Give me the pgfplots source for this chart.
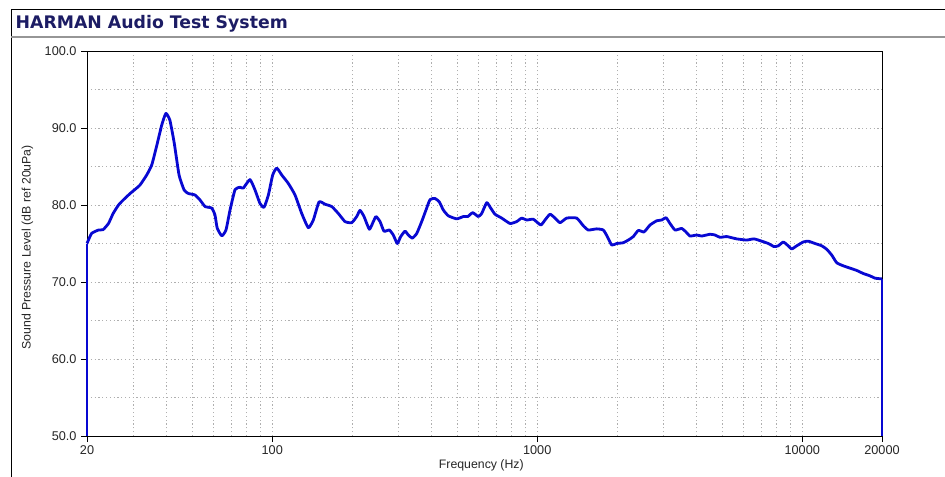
\documentclass[border=0pt]{standalone}
\usepackage{fontspec}
\setmainfont{Liberation Sans}
\newfontfamily\titlefont{DejaVu Sans}
\usepackage{pgfplots}
\pgfplotsset{compat=1.18}
\definecolor{titleblue}{RGB}{28,28,100}
\definecolor{curveblue}{RGB}{8,8,210}
\definecolor{gridgray}{RGB}{175,175,175}
\definecolor{sepgray}{RGB}{150,150,150}
\begin{document}
\begin{tikzpicture}
\path[use as bounding box, fill=white] (0,0) rectangle (945bp,477bp);
\draw[black, line width=0.8bp] (945bp,468bp) -- (11bp,468bp) -- (11bp,0bp);
\draw[sepgray, line width=1.6bp] (11bp,440bp) -- (945bp,440bp);
\node[anchor=west, inner sep=0pt, text=titleblue] at (15.5bp,453.5bp)
  {\titlefont\bfseries\fontsize{17.3bp}{20bp}\selectfont HARMAN Audio Test System};
\begin{axis}[
  at={(87bp,41bp)}, anchor=south west,
  width=795bp, height=385bp, scale only axis,
  xmode=log, xmin=20, xmax=20000, ymin=50, ymax=100,
  xtick={20,100,1000,10000,20000},
  xticklabels={20,100,1000,10000,20000},
  minor xtick={30,40,50,60,70,80,90,200,300,400,500,600,700,800,900,2000,3000,4000,5000,6000,7000,8000,9000},
  ytick={50,60,...,100},
  minor ytick={55,65,75,85,95},
  yticklabel={\pgfmathprintnumber[fixed,fixed zerofill,precision=1]{\tick}},
  /pgf/number format/assume math mode=true,
  tick align=outside,
  major tick length=6bp, minor tick length=0pt,
  tick style={black, line width=0.7bp},
  xtick pos=bottom, ytick pos=left,
  grid=both,
  major grid style={gridgray, line width=0.7bp, dash pattern=on 1.2bp off 2.6bp},
  minor grid style={gridgray, line width=0.7bp, dash pattern=on 1.2bp off 2.6bp},
  axis line style={black, line width=0.8bp},
  tick label style={font=\fontsize{12.7bp}{14bp}\selectfont, text=black!85},
  yticklabel style={xshift=-1bp},
  xlabel={Frequency (Hz)},
  ylabel={Sound Pressure Level (dB ref 20uPa)},
  label style={font=\fontsize{12.3bp}{14bp}\selectfont, text=black!85},
  xlabel style={at={(axis description cs:0.496,-0.075)}, anchor=center},
  ylabel style={at={(axis description cs:-0.075,0.49)}, anchor=center},
  clip=false,
]
\addplot[curveblue, line width=2.8bp, line cap=butt] coordinates {(20,50) (20,75.0)};
\addplot[curveblue, line width=2.8bp, line cap=butt] coordinates {(20000,70.4) (20000,50)};
\addplot[curveblue, line width=2.8bp, line join=round, smooth, tension=0.3] coordinates {
(20,75.0) (20.8,76.3) (22.1,76.75) (23.0,76.8) (24.1,77.6) (25.1,78.9)
(26.3,80.0) (27.4,80.65) (29.1,81.5) (30.3,82.0) (31.7,82.6) (33.6,83.9)
(35.1,85.2) (36.6,87.6) (38.3,90.4) (39.7,91.9) (41.1,91.0) (42.7,88.0)
(44.5,83.9) (46.5,81.95) (48.2,81.5) (51.1,81.3) (53.4,80.65) (55.8,79.8)
(59.1,79.6) (60.8,78.7) (62.0,77.0) (64.5,76.0) (66.9,76.75) (69.3,79.35)
(72.4,82.0) (75.6,82.3) (77.8,82.2) (82.4,83.3) (86.1,81.95) (89.9,80.2)
(93.1,79.7) (96.7,81.3) (100.4,83.9) (104.0,84.8) (108.6,83.9) (115.0,82.8)
(121.9,81.3) (129.2,78.9) (136.8,77.05) (142.9,78.05) (150.2,80.4) (158.2,80.1)
(167.7,79.8) (177.6,78.9) (188.2,77.85) (199.5,77.7) (208.3,78.5) (214.4,79.3)
(222.0,78.5) (232.5,76.85) (240.7,77.85) (246.4,78.5) (255.1,77.85) (264.1,76.6)
(276.6,76.75) (286.3,76.1) (296.5,75.0) (305.4,75.9) (317.0,76.6) (326.2,76.1)
(337.7,75.7) (350.9,76.3) (366.5,77.85) (380.4,79.35) (393.9,80.7) (411.4,80.85)
(427.0,80.4) (442.2,79.35) (461.8,78.6) (496.8,78.2) (526.1,78.5) (546.5,78.5)
(570.9,79.0) (599.3,78.5) (617.2,78.9) (644.7,80.3) (667.5,79.6) (692.9,78.8)
(734.4,78.3) (789.6,77.6) (836.7,77.85) (873.9,78.3) (912.6,78.05) (966.8,78.15)
(1030.7,77.4) (1069.9,78.05) (1117.4,78.8) (1166.9,78.3) (1218.8,77.7) (1291.9,78.3)
(1409.1,78.3) (1492.3,77.3) (1558.7,76.75) (1676.7,76.9) (1775.7,76.75) (1838.5,75.9)
(1910,74.8) (1994.9,75.0) (2112.6,75.1) (2206,75.45) (2304,75.9) (2407,76.7)
(2529,76.5) (2664,77.4) (2824,77.95) (2950,78.05) (3062,78.35) (3170,77.6)
(3311,76.75) (3509,76.96) (3642,76.5) (3772,75.97) (3998,76.1) (4175,75.97)
(4487,76.2) (4686,76.1) (4895,75.8) (5188,75.9) (5659,75.6) (6172,75.45)
(6577,75.6) (7031,75.3) (7447,75.0) (7826,74.6) (8123,74.7) (8483,75.2)
(8784,74.8) (9126,74.3) (9532,74.7) (10093,75.2) (10542,75.3) (11174,75.0)
(11846,74.7) (12370,74.25) (12919,73.5) (13492,72.5) (14290,72.1) (15147,71.8)
(16055,71.5) (17003,71.1) (18019,70.8) (18820,70.5) (20000,70.4)
};
\end{axis}
\end{tikzpicture}
\end{document}
